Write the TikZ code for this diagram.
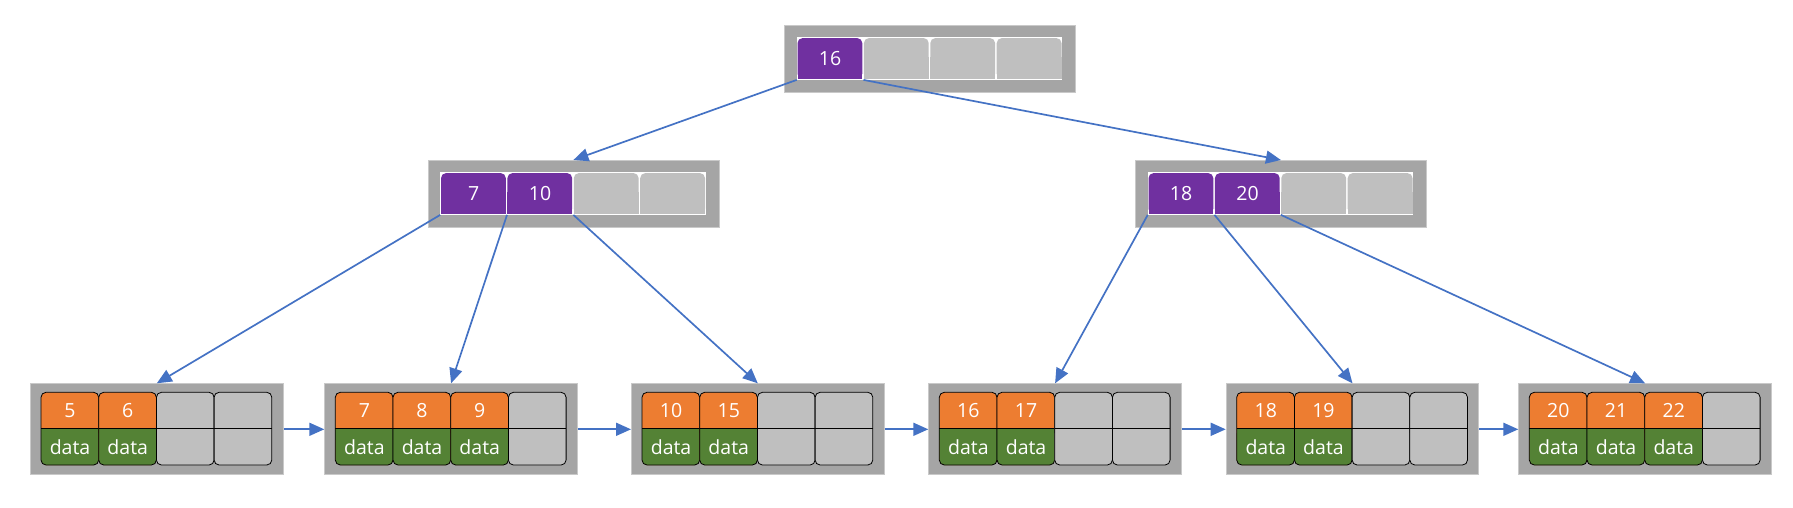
\documentclass[tikz,border=0pt]{standalone}
\usepackage{fontspec}
\setmainfont{Open Sans}
\usetikzlibrary{arrows.meta,calc}
\definecolor{kpurple}{HTML}{7030A0}
\definecolor{korange}{HTML}{ED7D31}
\definecolor{kgreen}{HTML}{548235}
\definecolor{kcell}{HTML}{BFBFBF}
\definecolor{kbox}{HTML}{A5A5A5}
\definecolor{kedge}{HTML}{C9C9C9}
\definecolor{kblue}{HTML}{4472C4}
\def\emptymark{x}
\tikzset{
  boxnode/.style={draw=kedge, line width=1pt, fill=kbox, inner sep=0pt, anchor=north west},
  cellnode/.style={inner sep=0pt, anchor=north west, text=white, font=\fontsize{19.5}{22}\selectfont},
  link/.style={draw=kblue, line width=1.7pt, -{Triangle[length=15pt,width=13pt]}},
}
\newcommand\innerbox[4]{%
  \node[boxnode, minimum width=291pt, minimum height=66.5pt] (#1) at (#2,#3) {};
  \fill[white] (#2+12.7,#3+12.3) rectangle ++(265.6,42.2);
  \foreach \k [count=\i] in {#4} {
    \pgfmathsetmacro\xa{#2+12.7+(\i-1)*66.4}
    \pgfmathsetmacro\xb{\xa+66.4}
    \pgfmathsetmacro\ya{#3+12.3}
    \pgfmathsetmacro\yb{\ya+42.2}
    \ifx\k\emptymark\def\cc{kcell}\else\def\cc{kpurple}\fi
    \fill[\cc, rounded corners=5pt] (\xa+0.8,\ya+0.8) rectangle (\xb-0.8,\yb-0.8);
    \fill[\cc] (\xa+0.8,\ya+20) rectangle (\xb-0.8,\yb-0.8);
    \node[cellnode, minimum width=66.4pt, minimum height=42.2pt] (#1\i) at (\xa,\ya) {\ifx\k\emptymark\else\k\fi};
  }
}
\newcommand\leafbox[3]{%
  \node[boxnode, minimum width=252.5pt, minimum height=91pt] (#1) at (#2,383.3) {};
  \foreach \k [count=\i] in {#3} {
    \pgfmathsetmacro\xa{#2+11+(\i-1)*57.7}
    \pgfmathsetmacro\xb{\xa+57.7}
    \ifx\k\emptymark\def\ct{kcell}\def\cb{kcell}\else\def\ct{korange}\def\cb{kgreen}\fi
    \fill[\ct, rounded corners=5pt] (\xa,392.3) rectangle (\xb,465);
    \fill[\cb, rounded corners=5pt] (\xa,428.5) rectangle (\xb,465);
    \fill[\cb] (\xa,428.5) rectangle (\xb,440);
    \draw[black, line width=0.8pt, rounded corners=5pt] (\xa,392.3) rectangle (\xb,465);
    \draw[black, line width=1.3pt] (\xa,428.5) -- (\xb,428.5);
    \node[cellnode, minimum width=57.7pt, minimum height=36.2pt] (#1k\i) at (\xa,392.3) {\ifx\k\emptymark\else\k\fi};
    \node[cellnode, minimum width=57.7pt, minimum height=36.5pt] (#1d\i) at (\xa,428.5) {\ifx\k\emptymark\else data\fi};
  }
}
\begin{document}
\begin{tikzpicture}[x=1pt,y=-1pt]
\useasboundingbox (0,0) rectangle (1793,507);
\innerbox{r}{784}{25}{16,x,x,x}
\innerbox{a}{427.5}{160}{7,10,x,x}
\innerbox{b}{1135}{160}{18,20,x,x}
\leafbox{l1}{30}{5,6,x,x}
\leafbox{l2}{324.3}{7,8,9,x}
\leafbox{l3}{631}{10,15,x,x}
\leafbox{l4}{928.3}{16,17,x,x}
\leafbox{l5}{1225.7}{18,19,x,x}
\leafbox{l6}{1518.3}{20,21,22,x}
\draw[link] (r1.south west) -- (a2.south east |- a.north);
\draw[link] (r1.south east) -- (b2.south east |- b.north);
\draw[link] (a1.south west) -- (l1k2.north east |- l1.north);
\draw[link] (a1.south east) -- (l2k2.north east |- l2.north);
\draw[link] (a2.south east) -- (l3k2.north east |- l3.north);
\draw[link] (b1.south west) -- (l4k2.north east |- l4.north);
\draw[link] (b1.south east) -- (l5k2.north east |- l5.north);
\draw[link] (b2.south east) -- (l6k2.north east |- l6.north);
\draw[link] (l1.east) -- (l2.west);
\draw[link] (l2.east) -- (l3.west);
\draw[link] (l3.east) -- (l4.west);
\draw[link] (l4.east) -- (l5.west);
\draw[link] (l5.east) -- (l6.west);
\end{tikzpicture}
\end{document}
